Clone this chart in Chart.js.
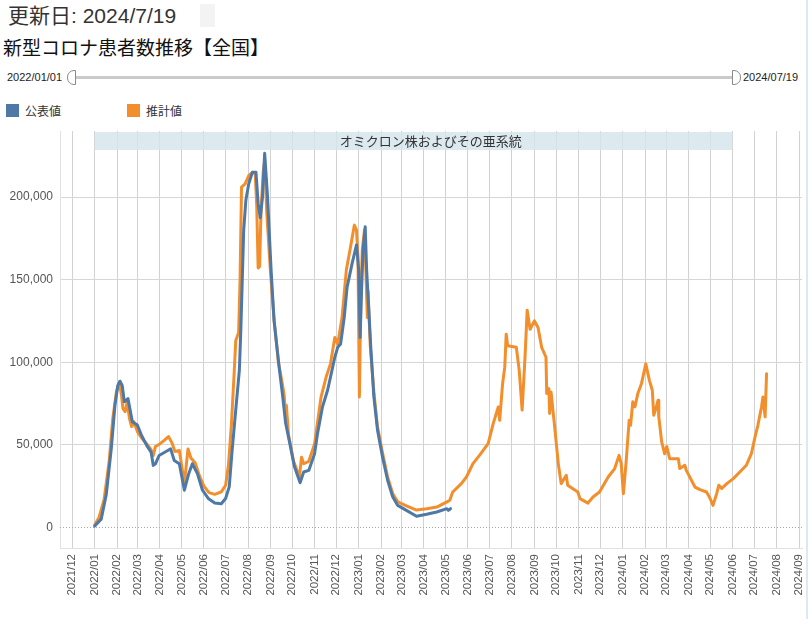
<!DOCTYPE html>
<html lang="ja">
<head>
<meta charset="utf-8">
<title>新型コロナ患者数推移【全国】</title>
<script src="https://cdn.jsdelivr.net/npm/chart.js@4.4.1/dist/chart.umd.min.js"></script>
<style>
  html, body { margin: 0; padding: 0; background: #fff; }
  body { width: 808px; height: 619px; position: relative; overflow: hidden;
         font-family: "Liberation Sans", "Noto Sans CJK JP", sans-serif; }
  .abs { position: absolute; white-space: nowrap; }
  #updated { left: 8px; top: 5px; font-size: 21px; line-height: 21px; color: #333; }
  #updBox { left: 200px; top: 4px; width: 15px; height: 23px; background: #f3f3f3; }
  #title { left: 3px; top: 37px; font-size: 19px; line-height: 19px; color: #111;
           font-family: "Noto Sans CJK JP", sans-serif; }
  .range { top: 71px; font-size: 11px; line-height: 12px; color: #222; }
  #track { left: 75px; top: 76px; width: 658px; height: 3px; background: #cacaca; }
  .handle { top: 70px; width: 7px; height: 13px; background: #fff; border: 1px solid #8a8a8a; }
  #hL { left: 67px; border-radius: 7px 0 0 7px; }
  #hR { left: 732px; border-radius: 0 7px 7px 0; }
  .sw { top: 104px; width: 13px; height: 13px; }
  .lg { top: 105px; font-size: 12px; line-height: 12px; color: #333;
        font-family: "Noto Sans CJK JP", sans-serif; }
  #edge { left: 806px; top: 0; width: 2px; height: 619px; background: #dbe9f1; }
  #c { position: absolute; left: 0; top: 120px; }
</style>
</head>
<body>
<div class="abs" id="updated">更新日: 2024/7/19</div>
<div class="abs" id="updBox"></div>
<div class="abs" id="title">新型コロナ患者数推移【全国】</div>

<div class="abs range" style="left:7px">2022/01/01</div>
<div class="abs" id="track"></div>
<div class="abs handle" id="hL"></div>
<div class="abs handle" id="hR"></div>
<div class="abs range" style="left:743px">2024/07/19</div>

<div class="abs sw" style="left:6px;background:#4e79a7"></div>
<div class="abs lg" style="left:25px">公表値</div>
<div class="abs sw" style="left:127px;background:#f28e2b"></div>
<div class="abs lg" style="left:146px">推計値</div>

<div class="abs" id="edge"></div>
<canvas id="c" width="808" height="499"></canvas>

<script>
// 公表値 (reported)
var blueDates = [
  '2022-01-01','2022-01-10','2022-01-17','2022-01-24','2022-01-29','2022-02-02','2022-02-05','2022-02-08',
  '2022-02-11','2022-02-16','2022-02-19','2022-02-22','2022-03-01','2022-03-07','2022-03-14','2022-03-20',
  '2022-03-23','2022-03-26','2022-03-31','2022-04-12','2022-04-16','2022-04-21','2022-04-28','2022-05-05',
  '2022-05-11','2022-05-16','2022-05-23','2022-05-30','2022-06-07','2022-06-16','2022-06-25','2022-07-01',
  '2022-07-06','2022-07-10','2022-07-15','2022-07-20','2022-07-22','2022-07-26','2022-07-29','2022-08-02',
  '2022-08-07','2022-08-12','2022-08-15','2022-08-18','2022-08-21','2022-08-24','2022-08-28','2022-09-02',
  '2022-09-06','2022-09-13','2022-09-18','2022-09-22','2022-09-27','2022-10-04','2022-10-12','2022-10-17',
  '2022-10-24','2022-11-01','2022-11-05','2022-11-12','2022-11-19','2022-11-23','2022-11-29','2022-12-03',
  '2022-12-07','2022-12-12','2022-12-16','2022-12-23','2022-12-29','2023-01-01','2023-01-03','2023-01-05',
  '2023-01-07','2023-01-10','2023-01-12','2023-01-15','2023-01-18','2023-01-22','2023-01-27','2023-02-03',
  '2023-02-10','2023-02-17','2023-02-24','2023-03-08','2023-03-22','2023-04-05','2023-04-19','2023-05-03',
  '2023-05-05','2023-05-08'
];
var blueVals = [
  800, 5000, 20000, 48000, 74000, 86000, 88500, 86000,
  76000, 78000, 71000, 64000, 62000, 55500, 49500, 45500,
  37500, 38500, 43500, 46500, 47500, 40500, 38500, 22500,
  32500, 38500, 32500, 22500, 17500, 14700, 14300, 17500,
  24500, 46500, 71000, 95000, 119000, 180000, 198000, 208000,
  215000, 215000, 196000, 187500, 200000, 226500, 200000, 155000,
  125000, 97000, 79000, 63000, 52500, 37000, 27000, 33500,
  34500, 44500, 56500, 73000, 83000, 91000, 103000, 109000,
  111000, 127000, 145500, 160000, 171000, 156000, 115000, 143500,
  168000, 182000, 156000, 131500, 107000, 79000, 59000, 42500,
  28500, 18500, 13300, 10300, 6700, 7900, 9300, 11300,
  10300, 11300
];

// 推計値 (estimated)
var orangeDates = [
  '2022-01-01','2022-01-07','2022-01-14','2022-01-21','2022-01-26','2022-01-31','2022-02-04','2022-02-07',
  '2022-02-09','2022-02-12','2022-02-15','2022-02-18','2022-02-21','2022-02-24','2022-03-01','2022-03-07',
  '2022-03-14','2022-03-20','2022-03-23','2022-03-26','2022-04-01','2022-04-08','2022-04-13','2022-04-18',
  '2022-04-22','2022-04-28','2022-05-05','2022-05-10','2022-05-14','2022-05-20','2022-05-26','2022-06-01',
  '2022-06-08','2022-06-16','2022-06-25','2022-07-01','2022-07-05','2022-07-09','2022-07-13','2022-07-15',
  '2022-07-19','2022-07-21','2022-07-23','2022-07-28','2022-08-02','2022-08-07','2022-08-11','2022-08-13',
  '2022-08-15','2022-08-17','2022-08-19','2022-08-22','2022-08-24','2022-08-27','2022-09-01','2022-09-06',
  '2022-09-12','2022-09-17','2022-09-20','2022-09-22','2022-09-23','2022-09-26','2022-10-03','2022-10-11',
  '2022-10-14','2022-10-17','2022-10-24','2022-11-01','2022-11-10','2022-11-17','2022-11-23','2022-11-29',
  '2022-12-03','2022-12-09','2022-12-15','2022-12-20','2022-12-26','2022-12-29','2022-12-31','2023-01-02',
  '2023-01-04','2023-01-06','2023-01-09','2023-01-11','2023-01-13','2023-01-14','2023-01-17','2023-01-22',
  '2023-01-27','2023-02-03','2023-02-10','2023-02-17','2023-02-24','2023-03-08','2023-03-22','2023-04-05',
  '2023-04-19','2023-05-03','2023-05-07','2023-05-11','2023-05-23','2023-05-30','2023-06-08','2023-06-17',
  '2023-06-29','2023-07-06','2023-07-13','2023-07-15','2023-07-19','2023-07-22','2023-07-24','2023-07-26',
  '2023-08-07','2023-08-11','2023-08-15','2023-08-19','2023-08-22','2023-08-26','2023-09-01','2023-09-06',
  '2023-09-11','2023-09-17','2023-09-18','2023-09-21','2023-09-22','2023-09-24','2023-09-29','2023-10-04',
  '2023-10-08','2023-10-15','2023-10-17','2023-10-31','2023-11-03','2023-11-14','2023-11-21','2023-11-30',
  '2023-12-12','2023-12-21','2023-12-27','2023-12-30','2024-01-02','2024-01-06','2024-01-10','2024-01-12',
  '2024-01-15','2024-01-18','2024-01-22','2024-01-27','2024-02-02','2024-02-07','2024-02-11','2024-02-13',
  '2024-02-16','2024-02-19','2024-02-20','2024-02-24','2024-02-28','2024-03-02','2024-03-06','2024-03-18',
  '2024-03-20','2024-03-27','2024-03-29','2024-04-10','2024-04-17','2024-04-26','2024-04-30','2024-05-05',
  '2024-05-10','2024-05-13','2024-05-17','2024-05-24','2024-06-02','2024-06-11','2024-06-20','2024-06-27',
  '2024-07-02','2024-07-06','2024-07-11','2024-07-13','2024-07-16','2024-07-18'
];
var orangeVals = [
  1500, 6000, 17000, 40000, 66000, 82000, 88000, 80000,
  72000, 70000, 76000, 66000, 61000, 64000, 58000, 54000,
  50500, 47000, 43500, 49000, 50500, 53000, 55000, 51000,
  46000, 46500, 26500, 47500, 42000, 39000, 31000, 25000,
  21000, 20000, 21500, 25500, 38000, 62000, 95000, 113000,
  118000, 150000, 206000, 208000, 213000, 215000, 214000, 195000,
  157000, 158000, 192000, 215000, 222000, 190000, 155000, 126000,
  100000, 88000, 80000, 66000, 74000, 56000, 40000, 30500,
  42500, 38500, 40000, 50500, 79000, 91000, 99000, 115000,
  111000, 127000, 156000, 168000, 183000, 180000, 164000, 79000,
  140000, 168000, 180000, 155000, 127000, 143000, 110000, 82000,
  61000, 45000, 30500, 20500, 15500, 13000, 10500, 11300,
  12300, 15400, 16400, 21400, 26500, 30500, 38600, 43600,
  50700, 62800, 72900, 64800, 87000, 97000, 117000, 110000,
  109000, 95000, 71000, 103000, 131500, 120000, 125000, 121000,
  109000, 103000, 81000, 84000, 69000, 82000, 60800, 38600,
  26500, 31500, 25500, 21400, 17400, 14700, 18400, 21400,
  30500, 35600, 43600, 38600, 20400, 40600, 64800, 61800,
  76000, 73000, 81000, 87000, 99000, 89000, 83000, 67900,
  72000, 77000, 66900, 51700, 44600, 49000, 41600, 41600,
  35600, 37600, 34500, 24400, 22800, 21400, 18400, 13300,
  20400, 25500, 23500, 26500, 29500, 33500, 37600, 44600,
  54700, 61800, 72900, 79000, 66900, 93000
];

// axis
var monthLabels = [
  '2021/12','2022/01','2022/02','2022/03','2022/04','2022/05','2022/06','2022/07','2022/08','2022/09',
  '2022/10','2022/11','2022/12','2023/01','2023/02','2023/03','2023/04','2023/05','2023/06','2023/07',
  '2023/08','2023/09','2023/10','2023/11','2023/12','2024/01','2024/02','2024/03','2024/04','2024/05',
  '2024/06','2024/07','2024/08','2024/09'
];
var yTicks = [0, 50000, 100000, 150000, 200000];
var bandLabel = 'オミクロン株およびその亜系統';
var bandFrom = '2022-01-01';
var bandTo = '2024-06-01';

function day(s) {
	return Date.parse(s + 'T00:00:00Z') / 86400000;
}
function toPoints(dates, vals) {
	return dates.map(function(d, i) { return { x: day(d), y: vals[i] }; });
}
var monthDays = monthLabels.map(function(m) { return day(m.replace('/', '-') + '-01'); });
var lastDay = day(orangeDates[orangeDates.length - 1]);

var bandPlugin = {
	id: 'band',
	beforeDatasetsDraw: function(chart) {
		var ctx = chart.ctx, area = chart.chartArea;
		var xs = chart.scales.x, ys = chart.scales.y;
		// dotted zero line
		var y0 = Math.round(ys.getPixelForValue(0)) + 0.5;
		ctx.save();
		ctx.strokeStyle = '#a8a8a8';
		ctx.lineWidth = 1;
		ctx.setLineDash([1, 2]);
		ctx.beginPath();
		ctx.moveTo(area.left, y0);
		ctx.lineTo(area.right, y0);
		ctx.stroke();
		ctx.setLineDash([]);
		// variant band
		var x0 = xs.getPixelForValue(day(bandFrom));
		var x1 = xs.getPixelForValue(day(bandTo));
		ctx.fillStyle = 'rgba(212,229,237,0.82)';
		ctx.fillRect(x0, area.top + 1, x1 - x0, 18);
		var xc = (x0 + xs.getPixelForValue(lastDay)) / 2;
		ctx.fillStyle = '#333';
		ctx.font = '13px "Noto Sans CJK JP", sans-serif';
		ctx.textAlign = 'center';
		ctx.textBaseline = 'middle';
		ctx.fillText(bandLabel, xc, area.top + 10);
		ctx.restore();
	}
};

var tickFont = { family: '"Liberation Sans", Arial, sans-serif', size: 12 };

var chart = new Chart(document.getElementById('c'), {
	type: 'line',
	data: {
		datasets: [
			{ label: '公表値', data: toPoints(blueDates, blueVals), borderColor: '#4e79a7',
			  backgroundColor: '#4e79a7', borderWidth: 3, pointRadius: 0, tension: 0,
			  borderJoinStyle: 'round', borderCapStyle: 'round' },
			{ label: '推計値', data: toPoints(orangeDates, orangeVals), borderColor: '#f28e2b',
			  backgroundColor: '#f28e2b', borderWidth: 3, pointRadius: 0, tension: 0,
			  borderJoinStyle: 'round', borderCapStyle: 'round' }
		]
	},
	options: {
		responsive: false,
		animation: false,
		layout: { padding: { top: 11, right: 6, left: 0, bottom: 0 } },
		plugins: { legend: { display: false }, tooltip: { enabled: false } },
		scales: {
			x: {
				type: 'linear',
				min: day('2021-11-14'),
				max: day('2024-09-05'),
				afterBuildTicks: function(s) {
					s.ticks = monthDays.map(function(v) { return { value: v }; });
				},
				afterFit: function(s) {
					s.height = 71;
					s.paddingLeft = 0;
					s.paddingRight = 0;
				},
				ticks: {
					autoSkip: false, minRotation: 90, maxRotation: 90, padding: 6,
					color: '#555', font: { family: tickFont.family, size: 11.5 },
					callback: function(v, i) { return monthLabels[i]; }
				},
				grid: { color: '#d2d2d2', drawTicks: false },
				border: { color: '#e2e2e2' }
			},
			y: {
				min: -12500,
				max: 240000,
				afterBuildTicks: function(s) {
					s.ticks = yTicks.map(function(v) { return { value: v }; });
				},
				afterFit: function(s) {
					s.width = 60;
					s.paddingTop = 0;
					s.paddingBottom = 0;
				},
				ticks: {
					padding: 7, color: '#555', font: tickFont,
					callback: function(v) { return v.toLocaleString('en-US'); }
				},
				grid: {
					drawTicks: false,
					color: function(c) { return c.tick && c.tick.value === 0 ? 'rgba(0,0,0,0)' : '#d6d6d6'; }
				},
				border: { color: '#e2e2e2' }
			}
		}
	},
	plugins: [bandPlugin]
});
</script>
</body>
</html>
